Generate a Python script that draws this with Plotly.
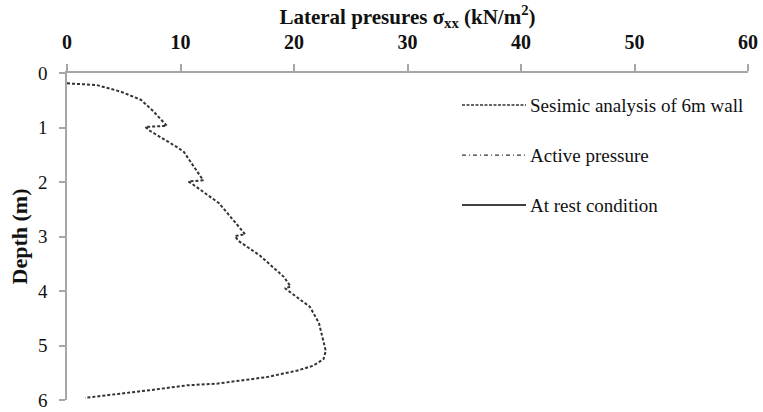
import plotly.graph_objects as go

# Seismic analysis of 6 m wall: lateral pressure (kN/m2) vs depth (m)
seismic_pressure = [0.0, 2.6, 4.7, 6.5, 7.6, 8.8, 6.9, 7.3, 9.7, 10.3, 12.0, 10.7, 11.2, 13.4,
                    15.7, 14.8, 15.1, 17.0, 19.1, 19.7, 19.2, 20.0, 21.4, 22.2, 22.5, 22.8,
                    22.6, 21.7, 20.3, 17.6, 13.2, 10.6, 7.3, 1.6]
seismic_depth = [0.19, 0.22, 0.34, 0.49, 0.70, 0.97, 0.99, 1.06, 1.36, 1.45, 1.97, 1.99, 2.06, 2.39,
                 2.96, 2.99, 3.08, 3.35, 3.74, 3.92, 3.95, 4.07, 4.29, 4.59, 4.83, 5.10,
                 5.25, 5.37, 5.46, 5.58, 5.70, 5.73, 5.82, 5.96]

series_names = ["Sesimic analysis of 6m wall", "Active pressure", "At rest condition"]
x_ticks = [0, 10, 20, 30, 40, 50, 60]
y_ticks = [0, 1, 2, 3, 4, 5, 6]

FONT = "Liberation Serif"
AXIS_GRAY = "#a6a6a6"

fig = go.Figure()
fig.add_trace(go.Scatter(
    x=seismic_pressure, y=seismic_depth, mode="lines",
    line=dict(color="#333333", width=2, dash="3px,2px"),
    name=series_names[0], showlegend=False,
))

# Manual legend (long line samples like the original)
legend_styles = [
    dict(color="#333333", width=1.5, dash="3px,1.5px"),
    dict(color="#333333", width=1.3, dash="4px,3px,1px,3px"),
    dict(color="#000000", width=1.5, dash="solid"),
]
legend_y = [0.902, 0.749, 0.596]
for name, style, yy in zip(series_names, legend_styles, legend_y):
    fig.add_shape(type="line", xref="paper", yref="paper",
                  x0=0.580, x1=0.674, y0=yy, y1=yy, line=style)
    fig.add_annotation(xref="paper", yref="paper", x=0.677, y=yy,
                       text=name, showarrow=False, xanchor="left", yanchor="middle",
                       font=dict(family=FONT, size=19, color="#111111"))

fig.update_layout(
    width=763, height=412,
    margin=dict(l=67, r=15, t=73, b=12),
    paper_bgcolor="white", plot_bgcolor="white",
    font=dict(family=FONT, color="#111111"),
    showlegend=False,
    xaxis=dict(
        side="top", range=[0, 60], tickvals=x_ticks, automargin=False,
        ticktext=[f"<b>{v}</b>" for v in x_ticks],
        showgrid=False, zeroline=False,
        showline=True, linecolor=AXIS_GRAY, linewidth=1.5,
        ticks="outside", ticklen=7, tickcolor=AXIS_GRAY, tickwidth=1.5,
        tickfont=dict(family=FONT, size=20, color="#111111"),
        ticklabelstandoff=7, ticklabeloverflow="allow",
        title=dict(text="<b>Lateral presures σ<sub>xx</sub> (kN/m<sup>2</sup>)</b>",
                   font=dict(family=FONT, size=21, color="#111111"), standoff=0),
    ),
    yaxis=dict(
        range=[6, 0], tickvals=y_ticks, automargin=False,
        showgrid=False, zeroline=False,
        showline=True, linecolor=AXIS_GRAY, linewidth=1.5,
        ticks="outside", ticklen=6, tickcolor=AXIS_GRAY, tickwidth=1.5,
        tickfont=dict(family=FONT, size=19, color="#111111"),
        ticklabelstandoff=8, ticklabeloverflow="allow",
        title=dict(text="<b>Depth (m)</b>",
                   font=dict(family=FONT, size=22, color="#111111"), standoff=4),
    ),
)

fig.write_html("out.html")
